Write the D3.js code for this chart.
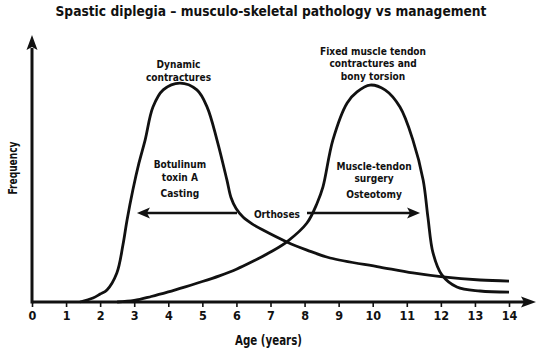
<!DOCTYPE html>
<html><head><meta charset="utf-8">
<script src="https://cdn.jsdelivr.net/npm/d3@7"></script>
<style>
body{margin:0;background:#fff}
text{font-family:'Liberation Sans Narrow','DejaVu Sans Condensed','Arial Narrow',sans-serif;font-weight:bold;fill:#111}
</style>
</head><body>
<svg id="c" width="540" height="352"></svg>
<script>
// ---- data ----
const xTicks = [0,1,2,3,4,5,6,7,8,9,10,11,12,13,14];
const dynamicAge  = [1.41,1.79,2.00,2.20,2.49,2.67,2.79,2.96,3.14,3.32,3.55,3.85,4.34,4.84,5.14,5.43,5.72,5.84,5.99,6.20,6.46,6.78,7.48,8.07,8.75,10.21,11.18,12.06,13.15,14.0];
const dynamicFreq = [0,1.8,3.6,5.5,13.2,26.0,37.3,50.9,63.2,73.6,88.6,96.4,99.5,96.4,88.6,73.6,55.5,47.5,42.5,38.5,35.5,32.7,27.3,23.6,20.0,15.9,13.2,11.4,10.0,9.5];
const fixedAge  = [2.5,3.0,3.5,4.0,4.5,5.0,5.5,6.0,6.5,7.0,7.5,8.07,8.37,8.54,8.83,9.25,9.54,9.92,10.36,10.80,11.18,11.48,11.62,11.77,12.03,12.47,13.15,14.0];
const fixedFreq = [0,0.7,2.5,4.6,6.9,9.3,11.9,14.9,18.6,22.7,27.6,35.9,45.0,52.3,73.6,90.5,95.5,98.6,96.4,88.6,73.6,55.5,38.6,22.3,12.3,6.8,5.0,4.5];
const orthosesAge = [3.08, 11.39];
const orthosesFreq = 40.5;
const title = "Spastic diplegia \u2013 musculo-skeletal pathology vs management";
const xTitle = "Age (years)";
const yTitle = "Frequency";
const notes = [
  {lines:["Dynamic","contractures"], age:4.3, freq:106.2},
  {lines:["Fixed muscle tendon","contractures and","bony torsion"], age:10.01, freq:112.3},
  {lines:["Botulinum","toxin A"], age:4.34, freq:60.8},
  {lines:["Casting"], age:4.34, freq:47.7},
  {lines:["Muscle-tendon","surgery"], age:10.04, freq:60.2},
  {lines:["Osteotomy"], age:10.04, freq:47.3},
  {lines:["Orthoses"], age:7.19, freq:38.0}
];

// ---- chart ----
const svg = d3.select("#c");
const x = d3.scaleLinear().domain([0,14]).range([32,509]);
const y = d3.scaleLinear().domain([0,100]).range([302,82]);

function squeeze(sel, width){ sel.attr("textLength",width).attr("lengthAdjust","spacingAndGlyphs"); }

svg.append("text").attr("x",271).attr("y",15.5).attr("text-anchor","middle")
  .attr("font-size",14.5).text(title).call(squeeze,431);

// axes
const xAxis = svg.append("g").attr("transform",`translate(0,${y(0)})`)
  .call(d3.axisBottom(x).tickValues(xTicks).tickFormat(d3.format("d")).tickSize(5).tickSizeOuter(0).tickPadding(4.5));
xAxis.select(".domain").remove();
xAxis.selectAll(".tick line").attr("stroke","#111").attr("stroke-width",1.6);
xAxis.selectAll(".tick text").style("font-family","'Liberation Sans Narrow','DejaVu Sans Condensed',sans-serif")
  .style("font-weight","bold").attr("font-size",12.5).attr("fill","#111");

const ax = svg.append("g").attr("stroke","#111").attr("stroke-width",3);
ax.append("line").attr("x1",x(0)).attr("x2",524).attr("y1",y(0)).attr("y2",y(0));
ax.append("line").attr("x1",x(0)).attr("x2",x(0)).attr("y1",y(0)+1.5).attr("y2",48);
svg.append("path").attr("fill","#111")
  .attr("d",`M536,${y(0)} L521,${y(0)-5.5} L524,${y(0)} L521,${y(0)+5.5}Z`);
svg.append("path").attr("fill","#111")
  .attr("d",`M${x(0)},35 L${x(0)-5.5},50 L${x(0)},47 L${x(0)+5.5},50Z`);

svg.append("text").attr("x",268.5).attr("y",345).attr("text-anchor","middle")
  .attr("font-size",14).text(xTitle).call(squeeze,67);
svg.append("text").attr("transform","translate(17,168) rotate(-90)").attr("text-anchor","middle")
  .attr("font-size",13).text(yTitle).call(squeeze,53);

// curves
const line = d3.line().x(d=>x(d[0])).y(d=>y(d[1])).curve(d3.curveCatmullRom.alpha(0.5));
const series = [d3.zip(dynamicAge,dynamicFreq), d3.zip(fixedAge,fixedFreq)];
svg.selectAll(".curve").data(series).join("path").attr("class","curve")
  .attr("d",line).attr("fill","none").attr("stroke","#111").attr("stroke-width",2.8)
  .attr("stroke-linejoin","round");

// orthoses arrow
const oy = y(orthosesFreq);
const lx = x(orthosesAge[0]), rx = x(orthosesAge[1]);
svg.append("line").attr("x1",lx+10).attr("x2",237).attr("y1",oy).attr("y2",oy)
  .attr("stroke","#111").attr("stroke-width",2.5);
svg.append("line").attr("x1",307).attr("x2",rx-10).attr("y1",oy).attr("y2",oy)
  .attr("stroke","#111").attr("stroke-width",2.5);
svg.append("path").attr("fill","#111").attr("d",`M${lx},${oy} L${lx+13},${oy-5.5} L${lx+10},${oy} L${lx+13},${oy+5.5}Z`);
svg.append("path").attr("fill","#111").attr("d",`M${rx},${oy} L${rx-13},${oy-5.5} L${rx-10},${oy} L${rx-13},${oy+5.5}Z`);

// annotations: one text per line, horizontally condensed to match the reference type
const fs = 10.4;
const probe = svg.append("text").attr("font-size",fs).text("Fixed muscle tendon");
const factor = Math.min(1, 106 / probe.node().getComputedTextLength());
probe.remove();
notes.forEach(n=>{
  n.lines.forEach((s,i)=>{
    const t = svg.append("text").attr("text-anchor","middle").attr("font-size",fs)
      .attr("x",x(n.age)).attr("y",y(n.freq)+i*12.3).text(s);
    const w = t.node().getComputedTextLength();
    t.call(squeeze, w*factor);
  });
});
</script>
</body></html>
